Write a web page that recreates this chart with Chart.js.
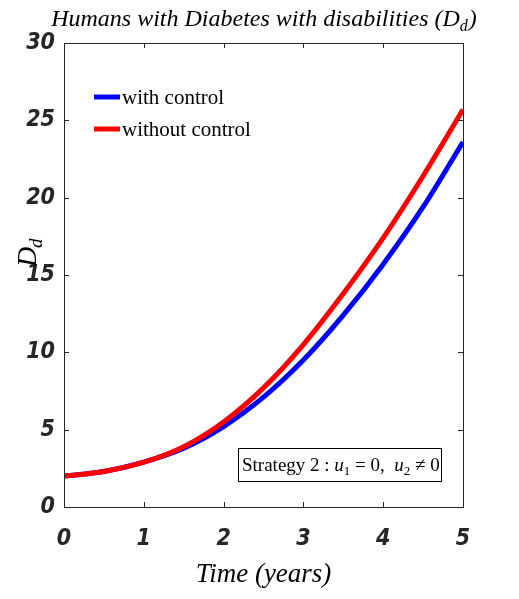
<!DOCTYPE html>
<html>
<head>
<meta charset="utf-8">
<script src="https://cdn.jsdelivr.net/npm/chart.js@4"></script>
<style>
  html, body { margin: 0; padding: 0; background: #fff; }
  #wrap { width: 519px; height: 599px; }
</style>
</head>
<body>
<div id="wrap"><canvas id="dChart" width="519" height="599"></canvas></div>
<script>
// values
const years = [0, 0.5, 1, 1.5, 2, 2.5, 3, 3.5, 4, 4.5, 5];
const withControl = [2.0, 2.3, 2.9, 3.8, 5.2, 7.1, 9.5, 12.4, 15.7, 19.4, 23.6];
const withoutControl = [2.0, 2.3, 2.9, 3.9, 5.5, 7.7, 10.5, 13.8, 17.4, 21.4, 25.7];
const xTicks = [0, 1, 2, 3, 4, 5];
const yTicks = [0, 5, 10, 15, 20, 25, 30];

const tickFont = { family: "'DejaVu Sans Condensed', 'Liberation Sans Narrow', 'Liberation Sans'", size: 23, weight: "bold", style: "italic" };
const serif = "'Liberation Serif', 'DejaVu Serif', serif";
const axisColor = "#262626";

const toPoints = (vals) => vals.map((v, i) => ({ x: years[i], y: v }));

// MATLAB-like box, inward ticks, titles, legend and annotation
const decorations = {
  id: "decorations",
  afterDraw(chart) {
    const ctx = chart.ctx;
    const a = chart.chartArea;
    const xs = chart.scales.x, ys = chart.scales.y;
    ctx.save();
    ctx.strokeStyle = axisColor;
    ctx.lineWidth = 1;
    ctx.strokeRect(a.left + 0.5, a.top + 0.5, a.right - a.left, a.bottom - a.top);
    ctx.beginPath();
    xTicks.forEach(t => {
      const px = Math.round(xs.getPixelForValue(t)) + 0.5;
      ctx.moveTo(px, a.bottom); ctx.lineTo(px, a.bottom - 5);
      ctx.moveTo(px, a.top); ctx.lineTo(px, a.top + 5);
    });
    yTicks.forEach(t => {
      const py = Math.round(ys.getPixelForValue(t)) + 0.5;
      ctx.moveTo(a.left, py); ctx.lineTo(a.left + 5, py);
      ctx.moveTo(a.right, py); ctx.lineTo(a.right - 5, py);
    });
    ctx.stroke();

    // title
    ctx.fillStyle = "#000";
    ctx.textBaseline = "alphabetic";
    const big = "italic 24px " + serif, small = "italic 16px " + serif;
    const t1 = "Humans with Diabetes with disabilities (";
    ctx.font = big;
    const w1 = ctx.measureText(t1).width;
    const wD = ctx.measureText("D").width;
    const wp = ctx.measureText(")").width;
    ctx.font = small;
    const wd = ctx.measureText("d").width;
    let tx = (a.left + a.right) / 2 - (w1 + wD + wd + wp) / 2;
    ctx.textAlign = "left";
    ctx.font = big;
    ctx.fillText(t1, tx, 26);
    ctx.fillText("D", tx + w1, 26);
    ctx.fillText(")", tx + w1 + wD + wd + 1, 26);
    ctx.font = small;
    ctx.fillText("d", tx + w1 + wD, 31);

    // x title
    ctx.textAlign = "center";
    ctx.font = "italic 27px " + serif;
    ctx.fillText("Time (years)", (a.left + a.right) / 2, 582);

    // y title
    ctx.save();
    ctx.translate(36, 253);
    ctx.rotate(-Math.PI / 2);
    ctx.textAlign = "left";
    ctx.font = "italic 28px " + serif;
    ctx.fillText("D", -14, 0);
    ctx.font = "italic 19px " + serif;
    ctx.fillText("d", 5, 6);
    ctx.restore();

    // legend
    const items = [["with control", "#0000ff"], ["without control", "#ff0000"]];
    ctx.textAlign = "left";
    ctx.font = "21px " + serif;
    items.forEach((it, i) => {
      const y = 97 + i * 32;
      ctx.strokeStyle = it[1];
      ctx.lineWidth = 5;
      ctx.beginPath();
      ctx.moveTo(94, y); ctx.lineTo(120, y);
      ctx.stroke();
      ctx.fillStyle = "#000";
      ctx.fillText(it[0], 122, y + 7);
    });

    // strategy box
    ctx.strokeStyle = "#000";
    ctx.lineWidth = 1;
    ctx.fillStyle = "#fff";
    ctx.fillRect(238, 448, 203, 33);
    ctx.strokeRect(238.5, 448.5, 203, 33);
    ctx.fillStyle = "#000";
    let sx = 242;
    const parts = [
      ["Strategy 2 : ", "19px", 0],
      ["u", "italic 19px", 0], ["1", "13px", 4], [" = 0,  ", "19px", 0],
      ["u", "italic 19px", 0], ["2", "13px", 4], [" \u2260 0", "19px", 0]
    ];
    parts.forEach(p => {
      ctx.font = p[1] + " " + serif;
      ctx.fillText(p[0], sx, 471 + p[2]);
      sx += ctx.measureText(p[0]).width;
    });
    ctx.restore();
  }
};

const ctxD = document.getElementById("dChart").getContext("2d");
const dChart = new Chart(ctxD, {
  type: "line",
  data: {
    datasets: [
      {
        label: "without control",
        data: toPoints(withoutControl),
        borderColor: "#ff0000",
        borderWidth: 5,
        pointRadius: 0,
        cubicInterpolationMode: "monotone",
      },
      {
        label: "with control",
        data: toPoints(withControl),
        borderColor: "#0000ff",
        borderWidth: 5,
        pointRadius: 0,
        cubicInterpolationMode: "monotone",
      },
    ],
  },
  options: {
    responsive: false,
    animation: false,
    layout: { padding: { left: 0, top: 43, right: 56, bottom: 0 } },
    plugins: {
      legend: { display: false },
      tooltip: { enabled: false },
    },
    scales: {
      x: {
        type: "linear",
        min: 0,
        max: 5,
        afterFit: (s) => { s.height = 92; },
        afterBuildTicks: (s) => { s.ticks = xTicks.map(v => ({ value: v })); },
        grid: { display: false },
        border: { display: false },
        ticks: { font: tickFont, color: axisColor, padding: 10 },
      },
      y: {
        min: 0,
        max: 30,
        afterFit: (s) => { s.width = 64; },
        afterBuildTicks: (s) => { s.ticks = yTicks.map(v => ({ value: v })); },
        grid: { display: false },
        border: { display: false },
        ticks: { font: tickFont, color: axisColor, padding: 1 },
      },
    },
  },
  plugins: [decorations],
});
</script>
</body>
</html>
